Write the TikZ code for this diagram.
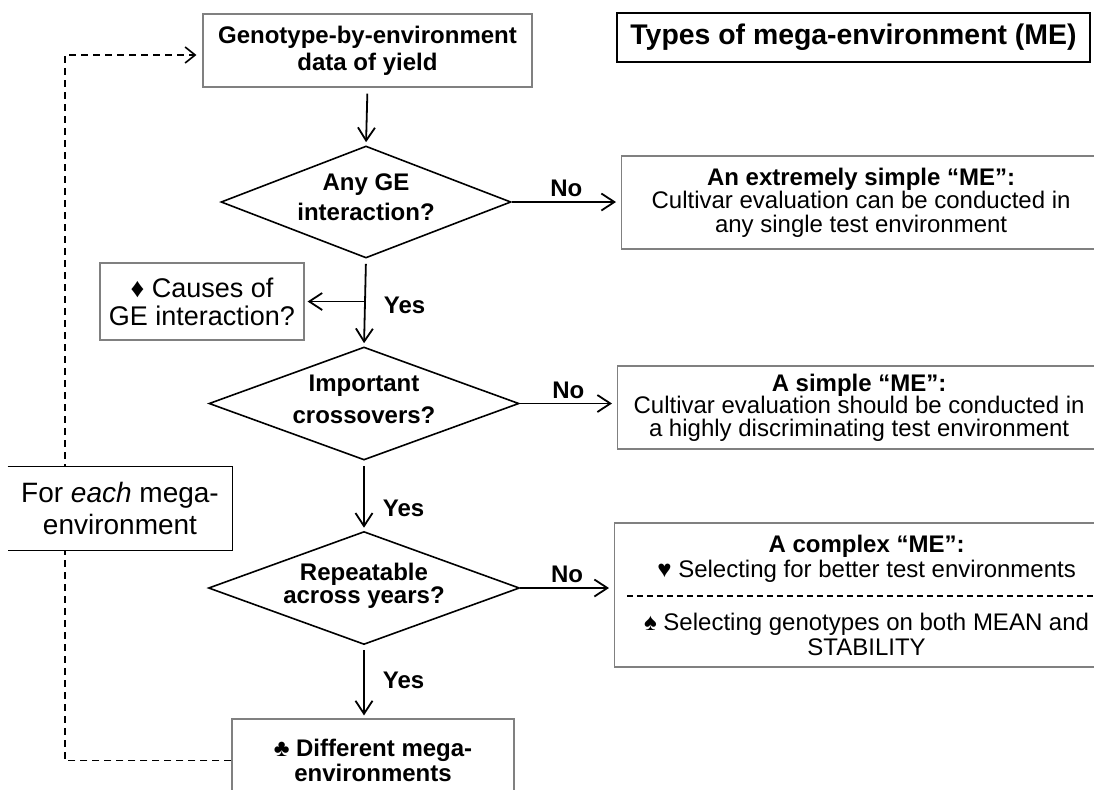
\documentclass[tikz,border=0pt]{standalone}
\usepackage{fontspec}
\setmainfont{Liberation Sans}
\usetikzlibrary{shapes.geometric,arrows.meta}
\definecolor{boxgray}{gray}{0.5}

\begin{document}
\begin{tikzpicture}[x=0.5pt,y=-0.5pt,
    greybox/.style={draw=boxgray,line width=0.6pt,align=center,inner sep=0pt},
    decision/.style={diamond,draw,line width=0.8pt,aspect=2.7,align=center,inner sep=0pt,text depth=4.5pt},
    flow/.style={-{Straight Barb[length=6.5pt,width=8.5pt]},line width=0.9pt},
    loopline/.style={-{Straight Barb[length=5pt,width=8pt]},line width=0.8pt,dash pattern=on 3.5pt off 2.5pt},
    sepline/.style={line width=0.6pt,dash pattern=on 3pt off 2pt},
    answer/.style={font=\fontsize{12}{14}\selectfont\bfseries,inner sep=2pt}]
    \useasboundingbox (0,0) rectangle (1094,789);

    % Start box and header
    \node[greybox,minimum width=164.5pt,minimum height=36.5pt,font=\fontsize{12}{13.5}\selectfont\bfseries] (gxe) at (367.5,50.5) {Genotype-by-environment\\data of yield};
    \node[draw,line width=0.8pt,minimum width=236.5pt,minimum height=24.5pt,inner sep=0pt,font=\fontsize{14.2}{16}\selectfont\bfseries] (types) at (853.5,37.5) {Types of mega-environment (ME)};

    % Decisions
    \node[decision,minimum width=145pt,minimum height=56pt,font=\fontsize{12}{15}\selectfont\bfseries] (anyge) at (366,202) {Any GE\\interaction?};
    \node[decision,minimum width=155pt,minimum height=56.5pt,font=\fontsize{12}{16}\selectfont\bfseries] (crossq) at (364,403.5) {Important\\crossovers?};
    \node[decision,minimum width=155.5pt,minimum height=56.5pt,font=\fontsize{12}{11.5}\selectfont\bfseries] (repq) at (364,588) {Repeatable\\across years?};

    % Types of ME (right column)
    \node[greybox,anchor=west,minimum width=239.5pt,minimum height=46.5pt,font=\fontsize{12}{11.75}\selectfont] (simplest) at (621,202.5) {\textbf{An extremely simple “ME”:}\\Cultivar evaluation can be conducted in\\any single test environment};
    \node[greybox,anchor=west,minimum width=241.5pt,minimum height=41.5pt,font=\fontsize{12}{11.25}\selectfont] (simple) at (617,407.5) {\textbf{A simple “ME”:}\\Cultivar evaluation should be conducted in\\a highly discriminating test environment};
    \node[greybox,anchor=west,minimum width=252pt,minimum height=72pt,font=\fontsize{12}{12.5}\selectfont] (complex) at (614,595) {\textbf{A complex “ME”:}\\♥ Selecting for better test environments\\[14pt]♠ Selecting genotypes on both MEAN and\\STABILITY};
    \coordinate (sepl) at (627,596);
    \draw[sepline] (sepl) -- (sepl -| complex.east);

    % Side box and end box
    \node[greybox,minimum width=102pt,minimum height=38.5pt,text depth=-2pt,font=\fontsize{13.5}{14}\selectfont] (causes) at (202,301.5) {♦ Causes of\\GE interaction?};
    \node[greybox,minimum width=141pt,minimum height=41.5pt,font=\fontsize{12}{12.5}\selectfont\bfseries] (diffme) at (373,760.5) {♣ Different mega-\\environments};

    % Main flow
    \draw[flow,shorten <=3pt,shorten >=1.5pt] (gxe.south) -- (anyge.north);
    \draw[flow,shorten <=2.5pt,shorten >=1.5pt] (anyge.south) -- node[answer,right,pos=0.53,xshift=7pt] {Yes} (crossq.north);
    \draw[flow,shorten <=2.5pt,shorten >=1.5pt] (crossq.south) -- node[answer,right,pos=0.68,xshift=7pt] {Yes} (repq.north);
    \draw[flow,shorten <=2.5pt,shorten >=1.5pt] (repq.south) -- node[answer,right,pos=0.48,xshift=7pt] {Yes} (repq.south |- diffme.north);
    \coordinate (fork) at (anyge.south |- causes.east);
    \draw[flow,shorten >=1.5pt] (fork) -- (causes.east);

    % No branches
    \draw[flow,shorten >=2.5pt] (anyge.east) -- node[answer,above] {No} (anyge.east -| simplest.west);
    \draw[flow,shorten >=2.5pt] (crossq.east) -- node[answer,above] {No} (crossq.east -| simple.west);
    \draw[flow,shorten >=2.5pt] (repq.east) -- node[answer,above] {No} (repq.east -| complex.west);

    % Loop back for each ME
    \coordinate (corner) at (65,55);
    \draw[loopline,shorten >=3pt] (diffme.west) -| (corner) -- (corner -| gxe.west);
    \node[fill=white,minimum width=112pt,minimum height=41.5pt,inner sep=0pt,align=center,font=\fontsize{14}{16}\selectfont] (foreach) at (120,508.5) {For \textit{each} mega-\\environment};
    \draw[line width=0.8pt] (foreach.north west) -- (foreach.north east) -- (foreach.south east) -- (foreach.south west);
\end{tikzpicture}
\end{document}
